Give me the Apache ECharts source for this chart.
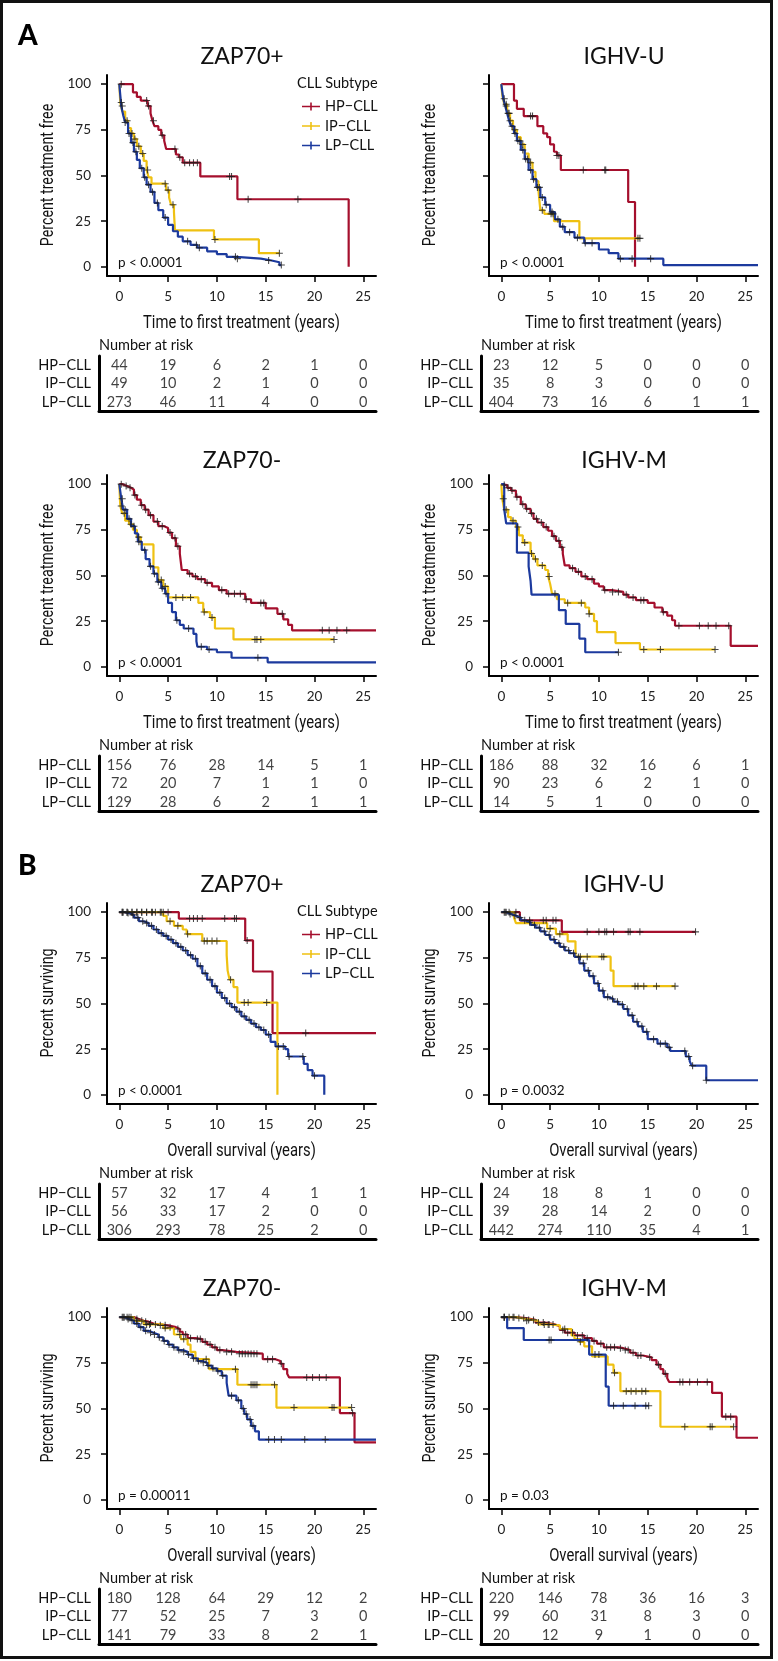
<!DOCTYPE html>
<html><head><meta charset="utf-8">
<script src="https://cdn.jsdelivr.net/npm/echarts@6/dist/echarts.min.js"></script>
<style>html,body{margin:0;padding:0;background:#fff}#c{width:778px;height:1661px}</style>
</head><body><div id="c"></div>
<script>
// ---------- DATA ----------
const groups = ['HP−CLL', 'IP−CLL', 'LP−CLL'];
const riskTimes = [0, 5, 10, 15, 20, 25];
const xTicks = [0, 5, 10, 15, 20, 25];
const yTicks = [0, 25, 50, 75, 100];
const panelTitles = ['ZAP70+', 'IGHV-U', 'ZAP70-', 'IGHV-M', 'ZAP70+', 'IGHV-U', 'ZAP70-', 'IGHV-M'];
const pValues = ['p < 0.0001', 'p < 0.0001', 'p < 0.0001', 'p < 0.0001', 'p < 0.0001', 'p = 0.0032', 'p = 0.00011', 'p = 0.03'];
const xNames = ['Time to first treatment (years)', 'Overall survival (years)'];
const yNames = ['Percent treatment free', 'Percent surviving'];

// Panel A1 ZAP70+ (time to first treatment)
const A1_HP = [[0,100],[1.4,95.5],[1.8,93],[2.2,91],[2.9,88],[3.2,84],[3.4,80],[3.6,77],[4.0,75],[4.3,72],[4.6,69],[4.8,64.5],[5.8,61.5],[6.1,60],[6.5,57],[8.3,49.5],[12.1,37],[23.5,0]];
const A1_IP = [[0,100],[0.1,90],[0.3,85],[0.6,80],[0.9,76],[1.2,73],[1.5,70],[1.8,66],[2.2,62],[2.5,58],[2.8,53],[3.0,49],[3.3,45.5],[4.8,42],[5.1,38],[5.3,34],[5.6,30],[5.7,20],[9.7,15],[14.3,7.5],[16.4,7.5]];
const A1_LP = [[0,100],[0.1,94],[0.2,88],[0.4,83],[0.6,79],[0.9,73],[1.2,68],[1.5,63],[1.8,58.5],[2.1,54],[2.5,49],[2.8,45],[3.2,41],[3.6,35],[4.0,31],[4.5,27],[5.0,23],[5.5,19.5],[6.0,16.5],[6.5,14],[7.3,12],[8.0,10.5],[9.0,8.5],[10.0,7],[11.0,5.5],[12.0,4.5],[14.5,3.5],[15.6,2.5],[16.4,1],[16.6,1]];
const A1_HP_c = [0.2,2.8,3.0,3.5,4.4,5.7,6.2,6.7,7.2,7.6,8.0,11.3,11.5,13.2,18.3];
const A1_IP_c = [0.2,0.8,1.3,1.6,2.0,2.4,2.9,4.7,5.0,5.5,9.8,16.4];
const A1_LP_c = [0.3,0.6,1.0,1.4,1.7,2.3,2.6,3.0,3.4,3.9,4.7,7.0,7.9,8.2,11.9,12.1,15.3,16.6];
const A1_risk_HP = [44,19,6,2,1,0];
const A1_risk_IP = [49,10,2,1,0,0];
const A1_risk_LP = [273,46,11,4,0,0];

// Panel A2 IGHV-U
const A2_HP = [[0,100],[1.3,91],[1.6,86.5],[2.3,82.5],[3.7,77],[4.3,73],[4.7,71],[5.0,67],[5.4,63],[5.7,61],[6.1,53],[13.0,35.5],[13.7,0]];
const A2_IP = [[0,100],[0.1,94],[0.3,89],[0.6,84],[0.9,80],[1.2,75],[1.6,71],[2.0,67],[2.4,62],[2.8,57],[3.2,52],[3.5,47],[3.8,42],[4.0,31],[4.4,29],[5.4,25],[8.0,15.6],[14.2,15.6]];
const A2_LP = [[0,100],[0.1,96],[0.2,92],[0.4,88],[0.6,84],[0.8,80],[1.0,77],[1.3,73],[1.6,69],[2.0,64],[2.4,59],[2.8,53],[3.2,48],[3.6,43.5],[4.0,38],[4.5,34],[5.0,30],[5.5,26],[6.0,22],[6.5,19],[7.5,16],[8.5,13],[10.0,9.5],[11.0,7.5],[12.0,4.5],[16.6,1],[26.3,1]];
const A2_HP_c = [3.0,3.2,5.7,5.9,8.4,10.6,10.7];
const A2_IP_c = [0.5,0.8,1.4,2.2,3.0,4.2,5.1,5.3,14.0,14.2];
const A2_LP_c = [0.3,0.5,0.7,0.9,1.1,1.4,1.7,1.9,2.2,2.5,2.7,3.0,3.3,3.7,3.9,4.2,4.6,5.2,5.8,6.3,7.0,7.8,8.6,9.3,12.2,13.4,15.3];
const A2_risk_HP = [23,12,5,0,0,0];
const A2_risk_IP = [35,8,3,0,0,0];
const A2_risk_LP = [404,73,16,6,1,1];

// Panel A3 ZAP70-
const A3_HP = [[0,100],[0.3,99],[0.8,98],[1.2,97],[1.5,94],[1.8,91.5],[2.2,88.5],[2.6,86],[3.0,83],[3.5,79.5],[4.0,77],[4.6,76],[5.0,73.5],[5.4,70.5],[5.8,66],[6.2,62],[6.4,53],[7.0,51],[7.5,49.5],[8.0,48],[8.8,46],[9.5,44],[10.2,42],[11.0,40],[12.9,37],[13.5,35],[15.0,32],[16.2,29],[16.8,26],[17.3,23],[17.7,20],[26.3,20]];
const A3_IP = [[0,100],[0.1,88],[0.3,84],[0.6,80],[1.0,78],[1.4,75],[1.8,71],[2.2,67],[3.5,54.5],[4.0,47.5],[4.5,44],[5.0,38],[8.1,35],[8.6,30],[9.3,27],[9.8,21],[11.7,15],[22.0,15]];
const A3_LP = [[0,100],[0.2,92],[0.4,86],[0.8,81],[1.2,77],[1.6,73],[1.9,68.5],[2.3,64],[2.7,59],[3.1,55],[3.5,51],[3.9,46.5],[4.3,43],[4.7,40],[5.0,35],[5.4,30],[5.8,25.5],[6.2,23],[6.6,21],[7.6,18],[7.9,14],[8.0,11],[9.0,9.5],[10.0,8],[11.5,5],[15.2,2.5],[26.3,2.5]];
const A3_HP_c = [0.2,0.7,1.1,1.6,2.3,2.7,3.2,3.9,4.4,5.2,5.7,6.0,7.2,7.8,8.4,9.0,10.5,11.2,11.8,12.4,13.0,14.5,14.8,16.7,20.8,21.5,22.3,23.3];
const A3_IP_c = [0.2,0.5,1.2,2.0,4.3,4.7,5.8,6.5,7.3,8.7,9.5,13.9,14.1,14.5,22.0];
const A3_LP_c = [0.3,0.6,1.0,1.5,2.0,2.6,3.2,3.6,4.0,4.4,4.8,5.9,7.1,8.4,9.2,14.2];
const A3_risk_HP = [156,76,28,14,5,1];
const A3_risk_IP = [72,20,7,1,1,0];
const A3_risk_LP = [129,28,6,2,1,1];

// Panel A4 IGHV-M
const A4_HP = [[0,100],[0.2,99.5],[0.6,98],[1.0,96.5],[1.5,93],[2.0,89],[2.5,86.5],[3.0,84],[3.3,81],[3.7,79],[4.3,76.5],[4.8,74.5],[5.2,71.5],[5.6,69],[6.0,65.5],[6.3,62],[6.5,55.5],[7.0,54],[7.6,52],[8.2,49.5],[8.8,48],[9.5,45.5],[10.0,44],[10.5,42],[11.3,41],[12.5,39.5],[13.0,38],[13.8,36.5],[15.0,35],[15.7,32.5],[16.5,30],[17.0,28],[17.5,25.5],[17.8,22.5],[23.5,11.5],[26.3,11.5]];
const A4_IP = [[0,100],[0.1,92],[0.3,86],[0.7,82],[1.0,80],[1.5,76.5],[1.8,72],[2.2,68],[3.0,62],[3.3,59],[3.7,55.5],[4.5,53],[4.8,49.5],[5.0,45.5],[5.2,40],[5.7,37],[6.5,35],[8.6,32.5],[9.0,29],[9.5,25],[9.8,19],[11.7,13],[14.2,9.5],[21.9,9.5]];
const A4_LP = [[0,100],[0.3,86],[0.5,78.5],[1.6,62.5],[2.8,55],[3.0,47],[3.1,39.5],[5.9,31],[6.6,23.5],[8.0,15.5],[8.6,8],[12.0,8]];
const A4_HP_c = [0.3,0.7,1.1,1.6,2.2,2.6,3.1,3.6,4.1,4.6,5.4,5.9,6.2,7.3,7.9,8.6,9.3,10.6,11.4,12.0,12.8,13.5,14.3,14.6,16.6,18.2,20.3,21.2,22.0,23.3];
const A4_IP_c = [0.2,0.5,1.2,1.7,2.4,3.1,3.5,4.2,4.9,5.5,6.8,8.2,9.0,14.6,16.3,21.9];
const A4_LP_c = [12.0];
const A4_risk_HP = [186,88,32,16,6,1];
const A4_risk_IP = [90,23,6,2,1,0];
const A4_risk_LP = [14,5,1,0,0,0];

// Panel B1 ZAP70+ (overall survival)
const B1_HP = [[0,100],[6.1,96.5],[12.9,84.5],[13.7,67.5],[15.7,33.8],[26.3,33.8]];
const B1_IP = [[0,100],[4.5,98],[4.85,95],[5.6,92.5],[6.5,90.5],[6.9,88],[8.5,84.2],[11.0,76.5],[11.1,68],[11.3,63],[11.7,59],[12.1,50.5],[16.2,0]];
const B1_LP = [[0,100],[0.5,99.5],[1.0,98.5],[1.5,97],[2.0,95],[2.5,94],[3.0,92.5],[3.5,90.5],[4.0,88.5],[4.5,87],[5.0,85],[5.5,83],[6.0,81],[6.5,79],[7.0,76.5],[7.5,74.5],[8.0,70.5],[8.5,66.5],[9.0,63],[9.5,59.5],[10.0,56],[10.5,53],[11.0,50],[11.5,48],[12.0,45.5],[12.5,43],[13.0,41],[13.5,39],[14.0,37],[14.5,35.5],[15.0,33],[15.5,29],[16.0,26.5],[17.0,25],[17.3,21],[18.9,17],[19.3,13.5],[19.8,10.5],[21.0,0]];
const B1_HP_c = [0.3,0.8,1.3,1.8,2.3,2.8,3.3,3.7,4.3,4.5,5.0,7.2,7.6,8.0,8.5,10.8,11.8,12.0,13.1,19.1];
const B1_IP_c = [0.3,0.8,1.3,1.8,2.3,2.8,3.4,4.2,5.2,6.0,7.0,8.7,9.0,9.5,10.0,11.4,12.8,13.2,15.1];
const B1_LP_c = [0.4,0.9,1.4,1.9,2.4,2.8,3.3,3.8,4.3,4.8,5.3,5.8,6.3,6.8,7.3,7.8,8.3,8.8,9.3,9.8,10.3,10.8,11.3,11.8,12.3,12.8,13.3,13.8,14.3,14.8,15.3,16.3,16.8,17.4,18.8,20.0];
const B1_risk_HP = [57,32,17,4,1,1];
const B1_risk_IP = [56,33,17,2,0,0];
const B1_risk_LP = [306,293,78,25,2,0];

// Panel B2 IGHV-U
const B2_HP = [[0,100],[1.9,95.5],[6.2,89.2],[19.9,89.2]];
const B2_IP = [[0,100],[1.3,97],[1.5,94],[4.7,91],[5.6,88],[6.8,84],[7.6,75.6],[11.2,68],[11.5,59.5],[17.8,59.5]];
const B2_LP = [[0,100],[0.5,99],[1.0,98],[1.5,97],[2.0,95.5],[2.5,94.5],[3.0,93],[3.5,91.5],[4.0,89.5],[4.5,87.5],[5.0,85],[5.5,83],[6.0,81],[6.5,79],[7.0,77.5],[7.5,75.5],[8.0,72],[8.5,68],[9.0,65],[9.5,61],[10.0,57],[10.5,53.5],[11.0,52.5],[11.5,51],[12.0,49.5],[12.5,47],[13.0,43.5],[13.5,40],[14.0,37.5],[14.5,34.5],[15.0,30.5],[16.0,28],[17.0,26],[17.3,24],[18.9,21],[19.3,18.5],[19.5,16],[21.0,8],[26.3,8]];
const B2_HP_c = [0.3,1.5,2.9,4.3,4.6,5.3,5.6,8.8,10.0,10.6,10.8,11.5,13.0,13.2,14.2,19.9];
const B2_IP_c = [0.5,0.8,5.0,6.0,8.1,8.8,10.3,10.5,13.7,14.0,14.6,15.9,17.8];
const B2_LP_c = [0.4,0.9,1.4,1.9,2.4,2.9,3.4,3.9,4.4,4.9,5.4,5.9,6.4,6.9,7.4,7.9,8.4,8.9,9.4,9.9,10.4,10.9,11.4,11.9,12.4,12.9,13.4,13.9,14.4,14.9,15.6,16.3,16.8,17.2,18.8,19.2,19.6,21.0];
const B2_risk_HP = [24,18,8,1,0,0];
const B2_risk_IP = [39,28,14,2,0,0];
const B2_risk_LP = [442,274,110,35,4,1];

// Panel B3 ZAP70-
const B3_HP = [[0,100],[1.5,99],[2.0,98],[2.5,97.5],[3.0,96.5],[3.5,96],[4.0,95.5],[5.0,94.5],[5.8,93.5],[6.2,92],[6.5,90.5],[7.0,88.5],[7.8,88],[8.5,86.5],[9.0,85],[9.5,83.5],[10.0,82],[10.5,81],[12.0,80],[14.7,77],[16.0,76],[16.5,74.5],[16.8,71.5],[17.2,69],[17.4,67],[22.6,47.5],[24.1,31.5],[26.3,31.5]];
const B3_IP = [[0,100],[1.5,98],[2.5,96],[4.5,94],[5.6,90.5],[6.3,88],[7.0,85],[7.3,81],[7.8,77],[9.2,71.5],[12.1,63],[16.1,50.5],[23.8,50.5]];
const B3_LP = [[0,100],[0.5,99],[1.0,98],[1.5,96.5],[2.0,94.5],[2.5,92.5],[3.0,91.5],[3.5,90.5],[4.0,89],[4.5,87],[5.0,85],[5.5,83.5],[6.0,82],[6.5,81],[7.0,79.5],[7.5,77.5],[8.0,76],[8.5,75],[9.0,73.5],[9.5,72],[10.0,70.5],[10.5,68],[11.0,64],[11.2,57],[12.0,54.5],[12.5,50],[12.8,47],[13.1,44],[13.5,40.5],[13.9,37.5],[14.3,33],[26.3,33]];
const B3_HP_c = [0.3,0.8,1.2,1.8,2.3,2.7,3.2,3.7,4.2,4.7,5.2,6.0,6.8,7.3,8.0,8.3,8.8,9.3,9.8,10.3,11.0,11.5,12.3,12.6,12.9,13.2,13.5,13.8,14.1,15.2,15.7,16.6,19.2,19.8,20.5,21.2,23.9];
const B3_IP_c = [0.5,1.0,1.8,2.8,3.1,4.7,6.2,6.6,8.9,11.9,13.5,13.7,13.9,14.1,15.9,17.9,21.8,22.0,23.8];
const B3_LP_c = [0.4,0.9,1.3,1.8,2.2,2.7,3.2,3.6,4.1,4.6,5.1,5.6,6.1,6.6,7.1,7.6,8.1,8.6,9.1,9.6,10.1,10.6,11.5,12.2,12.7,13.0,13.4,13.7,15.3,15.9,16.6,19.0,21.1];
const B3_risk_HP = [180,128,64,29,12,2];
const B3_risk_IP = [77,52,25,7,3,0];
const B3_risk_LP = [141,79,33,8,2,1];

// Panel B4 IGHV-M
const B4_HP = [[0,100],[1.5,99.5],[2.5,98.5],[3.5,97],[4.5,96],[5.5,95],[6.0,93],[6.5,91.5],[7.5,90],[8.5,88.5],[9.3,87],[9.8,85.5],[10.5,83.5],[12.0,83],[12.5,82],[13.2,80.5],[13.8,79],[14.5,78],[15.4,76.5],[15.9,74],[16.3,71.5],[16.6,69],[17.0,66.5],[17.2,64.5],[21.6,58.5],[22.6,45.5],[24.1,34],[26.3,34]];
const B4_IP = [[0,100],[1.5,99],[2.5,98],[3.8,96],[5.0,95.5],[6.0,93.5],[7.2,90],[7.5,88],[8.0,86.5],[8.5,84],[9.3,78.5],[10.9,74],[11.5,69.5],[12.2,59.5],[16.3,40],[23.8,40]];
const B4_LP = [[0,100],[0.6,94],[2.3,87.5],[9.0,79.5],[10.7,62],[11.0,51.5],[15.1,51.5]];
const B4_HP_c = [0.3,0.8,1.3,1.8,2.3,2.8,3.3,3.8,4.3,4.8,5.3,6.3,6.8,7.3,7.8,8.3,8.8,9.5,10.2,10.8,11.2,11.6,12.2,12.7,13.0,13.5,14.0,14.3,15.2,16.1,16.8,18.3,18.6,19.3,20.1,21.1,23.0,23.5];
const B4_IP_c = [0.3,1.2,2.6,4.4,4.9,6.5,8.1,11.6,12.8,13.3,13.8,14.4,14.8,18.8,21.4,21.6,23.8];
const B4_LP_c = [0.3,4.9,5.1,9.6,10.0,11.5,12.5,13.7,14.8,15.1];
const B4_risk_HP = [220,146,78,36,16,3];
const B4_risk_IP = [99,60,31,8,3,0];
const B4_risk_LP = [20,12,9,1,0,0];

// ---------- LAYOUT / STYLE ----------
const COLORS = ['#a50f2d', '#efc112', '#1c3a9e'];
const CENS_COLOR = '#1c1c1c';
const ROW_TOP = [0, 400, 828, 1233];
const TITLE_Y = [57, 461, 885, 1289];
const COL_X = [0, 382];
const SANS = "Lato, 'Noto Sans', sans-serif";
const COND = "Roboto, 'Noto Sans', sans-serif";
const PLUS = 'path://M-0.6,-4 L0.6,-4 L0.6,-0.6 L4,-0.6 L4,0.6 L0.6,0.6 L0.6,4 L-0.6,4 L-0.6,0.6 L-4,0.6 L-4,-0.6 L-0.6,-0.6 Z';
const LEG_ICON = 'path://M0,3.2 L18,3.2 L18,4.8 L0,4.8 Z M8.2,0 L9.8,0 L9.8,8 L8.2,8 Z';

const panels = [
  {curves:[A1_HP,A1_IP,A1_LP], cens:[A1_HP_c,A1_IP_c,A1_LP_c], risk:[A1_risk_HP,A1_risk_IP,A1_risk_LP]},
  {curves:[A2_HP,A2_IP,A2_LP], cens:[A2_HP_c,A2_IP_c,A2_LP_c], risk:[A2_risk_HP,A2_risk_IP,A2_risk_LP]},
  {curves:[A3_HP,A3_IP,A3_LP], cens:[A3_HP_c,A3_IP_c,A3_LP_c], risk:[A3_risk_HP,A3_risk_IP,A3_risk_LP]},
  {curves:[A4_HP,A4_IP,A4_LP], cens:[A4_HP_c,A4_IP_c,A4_LP_c], risk:[A4_risk_HP,A4_risk_IP,A4_risk_LP]},
  {curves:[B1_HP,B1_IP,B1_LP], cens:[B1_HP_c,B1_IP_c,B1_LP_c], risk:[B1_risk_HP,B1_risk_IP,B1_risk_LP]},
  {curves:[B2_HP,B2_IP,B2_LP], cens:[B2_HP_c,B2_IP_c,B2_LP_c], risk:[B2_risk_HP,B2_risk_IP,B2_risk_LP]},
  {curves:[B3_HP,B3_IP,B3_LP], cens:[B3_HP_c,B3_IP_c,B3_LP_c], risk:[B3_risk_HP,B3_risk_IP,B3_risk_LP]},
  {curves:[B4_HP,B4_IP,B4_LP], cens:[B4_HP_c,B4_IP_c,B4_LP_c], risk:[B4_risk_HP,B4_risk_IP,B4_risk_LP]}
];

function survAt(curve, t) {
  let v = curve[0][1];
  for (const [tt, s] of curve) { if (tt <= t + 1e-9) v = s; else break; }
  return v;
}

const grid = [], xAxis = [], yAxis = [], series = [], legend = [];
const graphic = [
  {type:'rect', shape:{x:1.5, y:1.5, width:770, height:1656}, style:{fill:'none', stroke:'#111', lineWidth:3}, z:100},
  {type:'text', x:18, y:36, style:{text:'A', font:"900 28px Lato, 'Noto Sans', sans-serif", fill:'#000', verticalAlign:'middle', textVerticalAlign:'middle'}},
  {type:'text', x:18, y:866, style:{text:'B', font:"900 28px Lato, 'Noto Sans', sans-serif", fill:'#000', verticalAlign:'middle', textVerticalAlign:'middle'}}
];

function txt(x, y, text, font, extra, align) {
  const a = align || 'center';
  return Object.assign({type:'text', x, y, style:{text, font, fill:'#111', align:a, verticalAlign:'middle', textAlign:a, textVerticalAlign:'middle'}}, extra || {});
}

panels.forEach((p, i) => {
  const r = Math.floor(i / 2), c = i % 2;
  const rt = ROW_TOP[r], cx = COL_X[c];
  const isB = r >= 2;
  const pg = 2 * i, rg = 2 * i + 1;
  grid.push({left:107 + cx, top:rt + 75, width:269, height:201});
  grid.push({left:99 + cx, top:rt + 356, width:277, height:55});
  xAxis.push({
    gridIndex:pg, type:'value', min:-1.26, max:26.3,
    axisLine:{show:true, onZero:false, lineStyle:{color:'#000', width:2}},
    axisTick:{show:true, customValues:xTicks, length:6, lineStyle:{color:'#000', width:1.5}},
    axisLabel:{show:true, customValues:xTicks, margin:14, fontSize:13.5, fontFamily:SANS, color:'#222'},
    splitLine:{show:false}
  });
  xAxis.push({
    gridIndex:rg, type:'value', min:-2.08, max:26.3,
    axisLine:{show:true, onZero:false, lineStyle:{color:'#000', width:3}},
    axisTick:{show:false}, axisLabel:{show:false}, splitLine:{show:false}
  });
  yAxis.push({
    gridIndex:pg, type:'value', min:-5, max:105,
    axisLine:{show:true, onZero:false, lineStyle:{color:'#000', width:2}},
    axisTick:{show:true, customValues:yTicks, length:6, lineStyle:{color:'#000', width:1.5}},
    axisLabel:{show:i !== 1, customValues:yTicks, margin:16, fontSize:13.5, fontFamily:SANS, color:'#222'},
    splitLine:{show:false}
  });
  yAxis.push({
    gridIndex:rg, type:'category', data:groups.slice().reverse(),
    axisLine:{show:true, onZero:false, lineStyle:{color:'#000', width:3}},
    axisTick:{show:false},
    axisLabel:{interval:0, margin:8, fontSize:14.5, fontFamily:SANS, color:'#111'},
    name:'Number at risk', nameLocation:'end', nameGap:3,
    nameTextStyle:{align:'left', verticalAlign:'bottom', fontSize:14.5, fontFamily:SANS, color:'#111'}
  });
  p.curves.forEach((curve, g) => {
    series.push({
      type:'line', name:groups[g], xAxisIndex:pg, yAxisIndex:pg, data:curve,
      step:'end', symbol:'none', showSymbol:false, clip:true, z:2 + g,
      lineStyle:{color:COLORS[g], width:2.2}, itemStyle:{color:COLORS[g]}
    });
  });
  p.cens.forEach((ts, g) => {
    series.push({
      type:'scatter', name:groups[g], xAxisIndex:pg, yAxisIndex:pg,
      data:ts.map(t => [t, survAt(p.curves[g], t)]),
      symbol:PLUS, symbolSize:7, z:6, itemStyle:{color:CENS_COLOR}
    });
  });
  p.risk.forEach((vals, g) => {
    series.push({
      type:'scatter', name:'risk ' + groups[g], xAxisIndex:rg, yAxisIndex:rg,
      data:riskTimes.map((t, k) => [t, groups[g], vals[k]]),
      symbolSize:1, itemStyle:{color:'rgba(0,0,0,0)'}, silent:true,
      label:{show:true, position:'inside', formatter:(d) => String(d.value[2]), fontSize:14.5, fontFamily:SANS, color:'#111'}
    });
  });
  graphic.push(txt(242 + cx, TITLE_Y[r], panelTitles[i], "23px " + SANS));
  graphic.push(txt(118 + cx, rt + 263, pValues[i], "13.5px " + SANS, {}, 'left'));
  // axis titles (condensed look via horizontal scale)
  graphic.push(txt(241.5 + cx, rt + 323, xNames[isB ? 1 : 0], "19px " + COND, {scaleX:0.78}));
  graphic.push(txt(48 + cx, rt + 175, yNames[isB ? 1 : 0], "19px " + COND, {rotation:Math.PI / 2, scaleX:0.75}));
  if (c === 0 && (r === 0 || r === 2)) {
    graphic.push(txt(297, rt + 83, 'CLL Subtype', "14.5px " + SANS, {}, 'left'));
    legend.push({
      left:297, top:rt + 94, orient:'vertical', data:groups, icon:LEG_ICON,
      itemWidth:18, itemHeight:8, itemGap:4.5,
      textStyle:{fontSize:14.5, lineHeight:14, fontFamily:SANS, color:'#111'}
    });
  }
});

const chart = echarts.init(document.getElementById('c'), null, {renderer:'canvas'});
chart.setOption({animation:false, backgroundColor:'#fff', grid, xAxis, yAxis, series, legend, graphic});
</script></body></html>
